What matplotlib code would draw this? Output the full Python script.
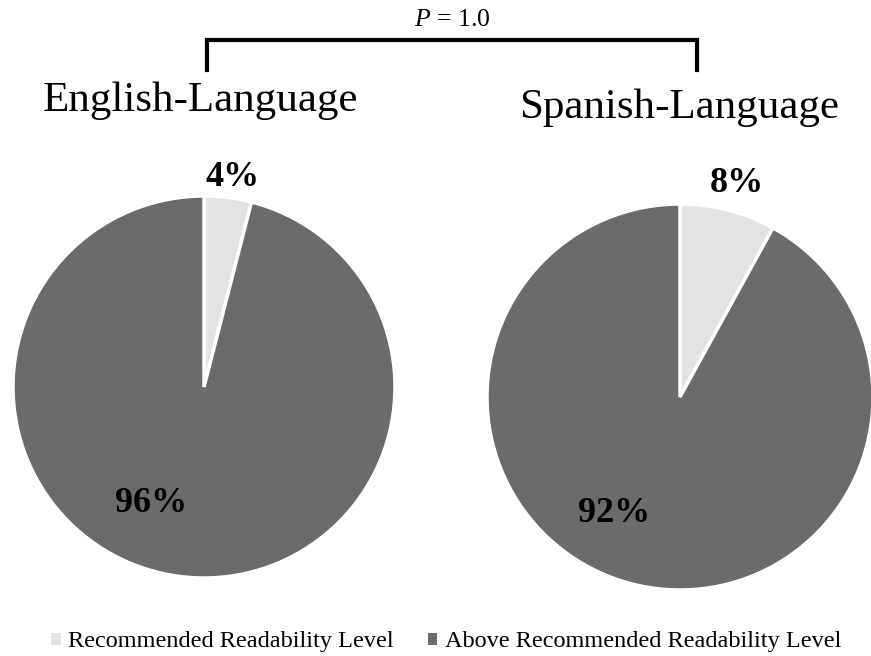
import numpy as np
import matplotlib.pyplot as plt
from matplotlib.patches import Patch

plt.rcParams['font.family'] = ['Liberation Serif', 'DejaVu Serif']
plt.rcParams['mathtext.fontset'] = 'custom'
plt.rcParams['mathtext.it'] = 'Liberation Serif:italic'
plt.rcParams['mathtext.rm'] = 'Liberation Serif'

# data
groups = ["English-Language", "Spanish-Language"]
categories = ["Recommended Readability Level", "Above Recommended Readability Level"]
shares = [[4, 96], [8, 92]]
colors = ["#e3e3e3", "#6b6b6b"]
p_value = "1.0"

W, H = 871, 656
fig = plt.figure(figsize=(W / 100, H / 100), dpi=100)
ax = fig.add_axes([0, 0, 1, 1])

# layout in pixel coords (y measured from top)
centers = [(204, 387), (680, 397)]
radii = [191, 193]
title_pos = [(200, 111), (679, 118)]
small_lbl = [(233, 178), (737, 183)]
big_lbl = [(151, 503), (614, 514)]

for i, g in enumerate(groups):
    cx, cy = centers[i]
    ax.pie(shares[i], colors=colors, startangle=90, counterclock=False,
           center=(cx, H - cy), radius=radii[i],
           wedgeprops=dict(edgecolor='white', linewidth=2.5))
    ax.text(title_pos[i][0], H - title_pos[i][1], g, fontsize=31,
            ha='center', va='baseline')
    ax.text(small_lbl[i][0], H - small_lbl[i][1], f"{shares[i][0]}%", fontsize=26,
            fontweight='bold', ha='center', va='center')
    ax.text(big_lbl[i][0], H - big_lbl[i][1], f"{shares[i][1]}%", fontsize=26,
            fontweight='bold', ha='center', va='center')

ax.set_xlim(0, W)
ax.set_ylim(0, H)
ax.set_aspect('equal')
ax.axis('off')

# significance bracket
bx0, bx1, by, bdrop = 207, 697, 40, 70
ax.plot([bx0, bx0, bx1, bx1], [H - bdrop, H - by, H - by, H - bdrop],
        color='black', lw=3, solid_joinstyle='miter')
ax.text((bx0 + bx1) / 2, H - 20, f"$P$ = {p_value}", fontsize=18.5,
        ha='center', va='center')

handles = [Patch(facecolor=c, edgecolor='none') for c in colors]
fig.legend(handles, categories, loc='center', bbox_to_anchor=(446 / W, 1 - 642 / H),
           ncol=2, frameon=False, fontsize=17.5, handlelength=0.4, handleheight=0.4,
           handletextpad=0.3, columnspacing=1.4, borderpad=0, borderaxespad=0)

fig.savefig("out.png", dpi=100)
